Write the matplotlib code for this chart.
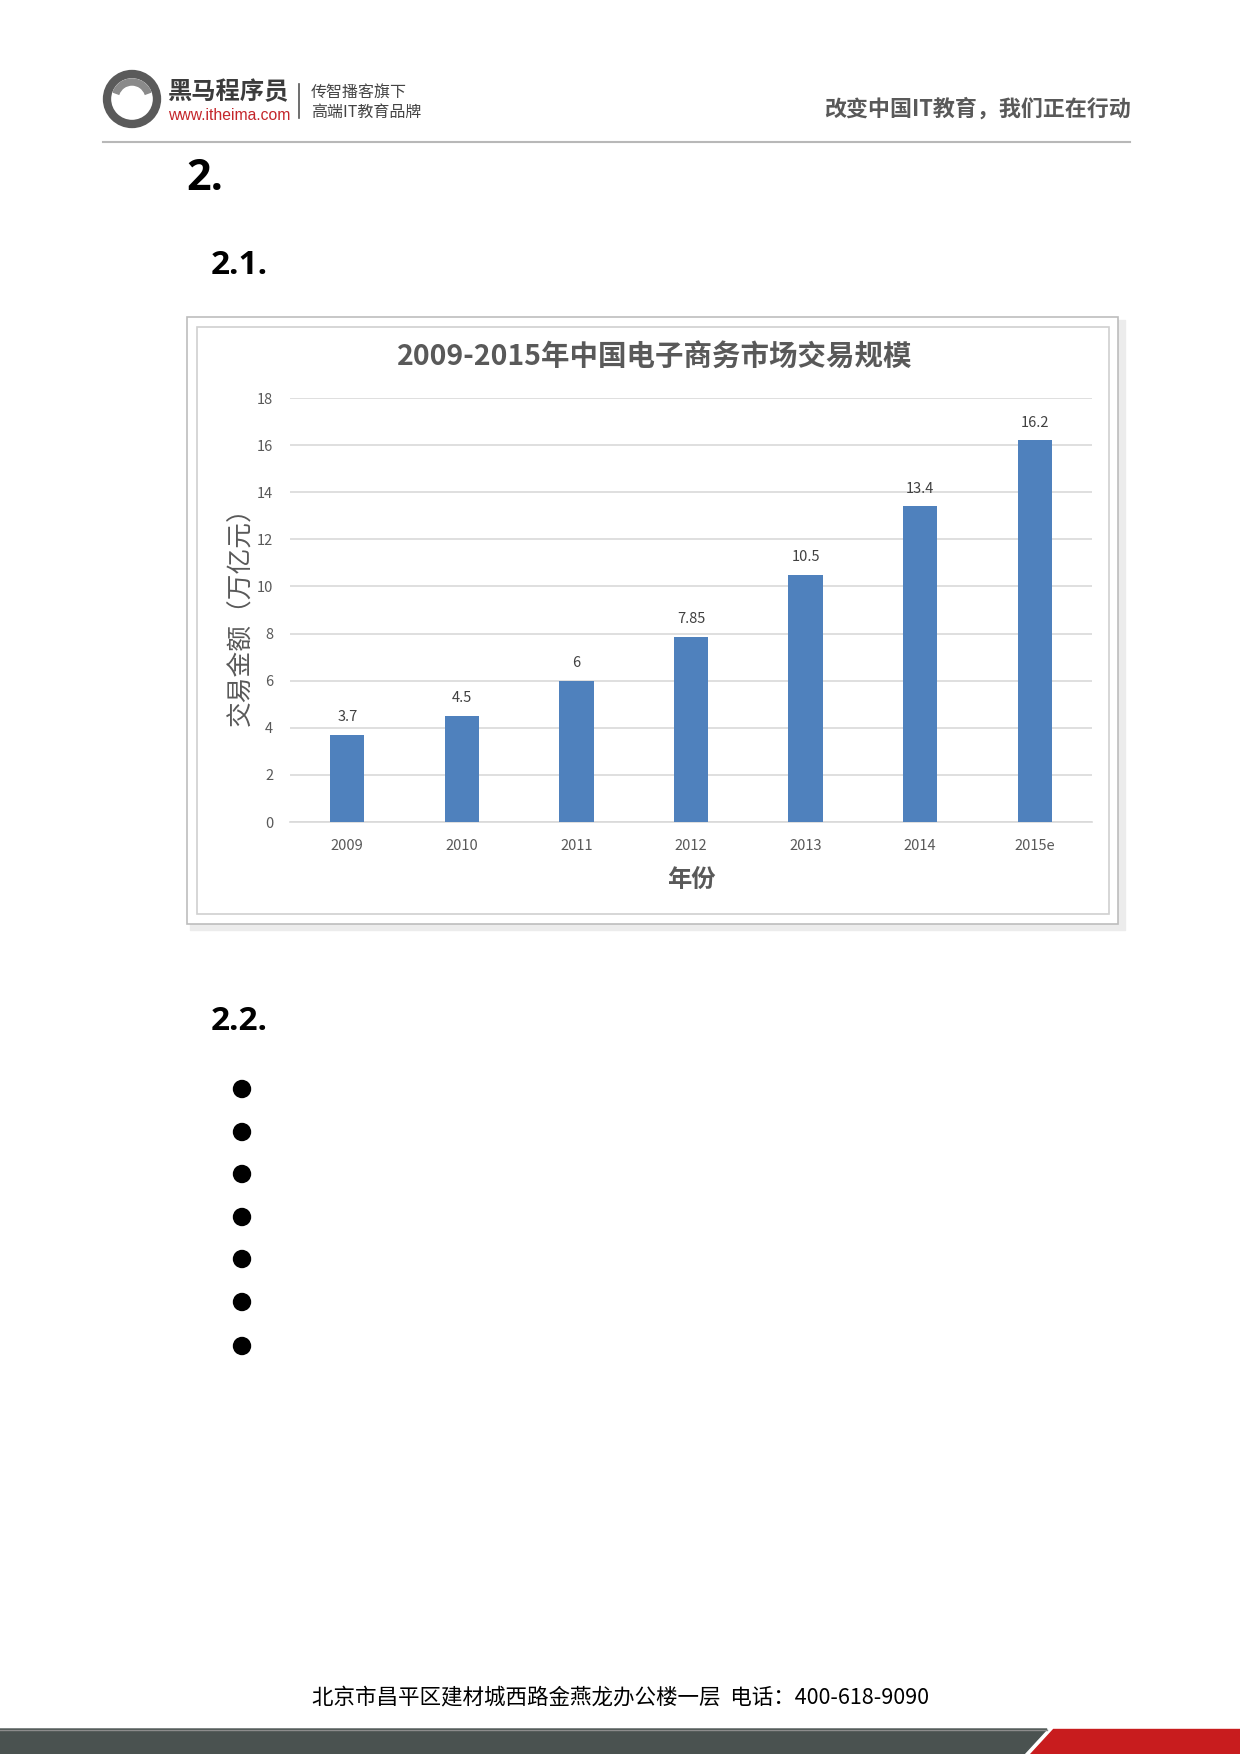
import matplotlib
matplotlib.use("Agg")
import matplotlib.pyplot as plt
from matplotlib.patches import Rectangle, Circle, Polygon, Wedge

plt.rcParams['font.family'] = ['Noto Sans CJK SC', 'DejaVu Sans']

# data
years = ['2009', '2010', '2011', '2012', '2013', '2014', '2015e']
amounts = [3.7, 4.5, 6, 7.85, 10.5, 13.4, 16.2]
amount_labels = ['3.7', '4.5', '6', '7.85', '10.5', '13.4', '16.2']
yticks = [0, 2, 4, 6, 8, 10, 12, 14, 16, 18]

title = '2009-2015年中国电子商务市场交易规模'
xlabel = '年份'
ylabel = '交易金额（万亿元）'

W, H = 1240, 1754
fig = plt.figure(figsize=(W / 100, H / 100), dpi=100)

# page overlay in pixel coordinates
page = fig.add_axes([0, 0, 1, 1])
page.set_xlim(0, W)
page.set_ylim(H, 0)
page.axis('off')

# ---- header ----
page.add_patch(Circle((132, 99), 25, fill=False, edgecolor='#5a5a5a', lw=6))
page.add_patch(Wedge((132, 99), 20, 200, 340, width=6, color='#8a8a8a'))
page.text(168, 92, '黑马程序员', fontsize=17.5, fontweight='bold', color='#3c3c3c',
          va='center', ha='left')
page.text(168, 115, 'www.itheima.com', fontsize=11.3, color='#c4262b',
          family='Liberation Sans', va='center', ha='left')
page.plot([299, 299], [84, 118], color='#555555', lw=1.2)
page.text(311, 92, '传智播客旗下', fontsize=11.5, color='#444444', va='center', ha='left')
page.text(311, 112, '高端IT教育品牌', fontsize=11.5, color='#444444', va='center', ha='left')
page.text(1131, 109, '改变中国IT教育，我们正在行动', fontsize=15.8, fontweight='bold',
          color='#595959', va='center', ha='right')
page.plot([103, 1130], [142, 142], color='#b8b8b8', lw=1.5)

# ---- section headings ----
page.text(186, 179, '2.', fontsize=31, fontweight='bold', family='Open Sans',
          va='center', ha='left')
page.text(211, 266, '2.1.', fontsize=24, fontweight='bold', family='Open Sans',
          va='center', ha='left')
page.text(211, 1021, '2.2.', fontsize=24, fontweight='bold', family='Open Sans',
          va='center', ha='left')

# bullets
for by in [1089, 1132, 1174, 1217, 1259, 1302, 1346]:
    page.add_patch(Circle((242, by), 8.5, color='black'))

# ---- chart frame ----
page.add_patch(Rectangle((190, 320), 935, 610, color='#ececec', zorder=1))
page.add_patch(Rectangle((187, 317), 931, 607, facecolor='white',
                         edgecolor='#bdbdbd', lw=1.2, zorder=2))
page.add_patch(Rectangle((197, 327), 912, 587, facecolor='white',
                         edgecolor='#d0d0d0', lw=1.2, zorder=3))
page.text(655, 358, title, fontsize=20.5, fontweight='bold', color='#595959',
          va='center', ha='center', zorder=4)

# ---- footer ----
page.text(620, 1697, '北京市昌平区建材城西路金燕龙办公楼一层  电话：400-618-9090',
          fontsize=15.5, color='black', va='center', ha='center')
page.add_patch(Polygon([(0, 1729), (1047, 1729), (1024, 1754), (0, 1754)],
                       closed=True, color='#4a5250'))
page.plot([0, 1047], [1729.5, 1729.5], color='#8c8c8c', lw=1)
page.add_patch(Polygon([(1053, 1729), (W, 1729), (W, 1754), (1030, 1754)],
                       closed=True, color='#c81c1e'))

# ---- bar chart ----
left, right, top, bottom = 290, 1092, 398, 822
ax = fig.add_axes([left / W, 1 - bottom / H, (right - left) / W, (bottom - top) / H],
                  zorder=5)
ax.patch.set_alpha(0)
x = range(len(years))
bars = ax.bar(x, amounts, width=0.3, color='#4f81bd', zorder=3)
for b, lab in zip(bars, amount_labels):
    ax.text(b.get_x() + b.get_width() / 2, b.get_height() + 0.45, lab,
            ha='center', va='bottom', fontsize=10.5, color='#404040')

ax.set_xlim(-0.5, len(years) - 0.5)
ax.set_ylim(0, 18)
ax.set_yticks(yticks)
ax.set_yticklabels([str(v) for v in yticks], fontsize=10.5, color='#595959')
ax.set_xticks(list(x))
ax.set_xticklabels(years, fontsize=10.5, color='#595959')
ax.tick_params(length=0, pad=12)
ax.tick_params(axis='y', pad=12)
ax.grid(axis='y', color='#d9d9d9', lw=1.2, zorder=0)
for s in ['top', 'right', 'left']:
    ax.spines[s].set_visible(False)
ax.spines['bottom'].set_color('#d9d9d9')
ax.spines['bottom'].set_linewidth(1.2)

ax.set_xlabel(xlabel, fontsize=17.5, fontweight='bold', color='#595959', labelpad=11)
ax.set_ylabel(ylabel, fontsize=18.5, color='#595959', labelpad=2)

fig.savefig('out.png', dpi=100)
